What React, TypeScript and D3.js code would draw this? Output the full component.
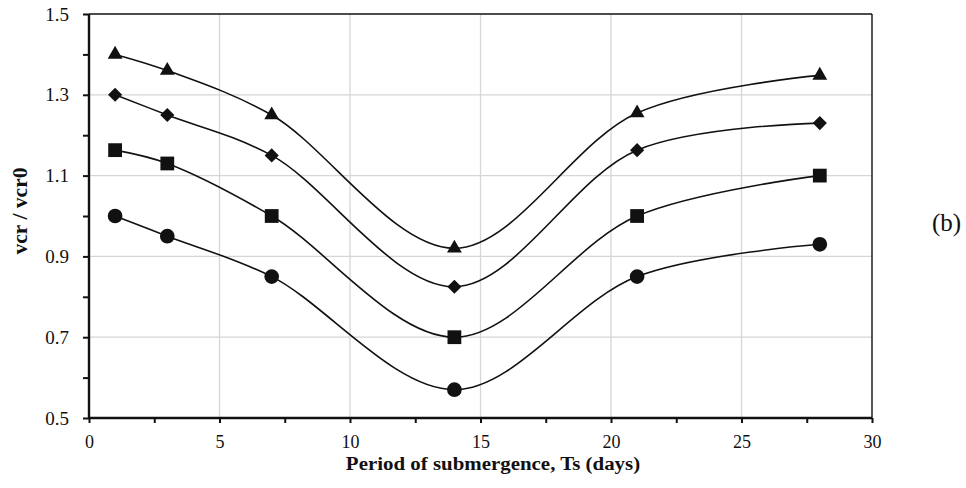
import React, { useEffect, useRef } from 'react';
import * as d3 from 'd3';

// period of submergence (days)
const days = [1, 3, 7, 14, 21, 28];

// vcr / vcr0 for each of the four curves
const seriesTriangle = [1.4, 1.36, 1.25, 0.92, 1.255, 1.348];
const seriesDiamond = [1.3, 1.25, 1.15, 0.825, 1.163, 1.23];
const seriesSquare = [1.163, 1.13, 1.0, 0.7, 1.0, 1.1];
const seriesCircle = [1.0, 0.95, 0.85, 0.57, 0.85, 0.93];

const xTicks = [0, 5, 10, 15, 20, 25, 30];
const yTicks = [0.5, 0.7, 0.9, 1.1, 1.3, 1.5];

const W = 966, H = 488;
const left = 89, right = 872, top = 14, bottom = 418;

const App = () => {
  const svgRef = useRef<SVGSVGElement>(null);

  useEffect(() => {
    const svg = d3.select(svgRef.current);
    svg.selectAll('*').remove();

    const x = d3.scaleLinear().domain([0, 30]).range([left, right]);
    const y = d3.scaleLinear().domain([0.5, 1.5]).range([bottom, top]);

    const font = "'Liberation Serif', 'Times New Roman', serif";

    // grid lines
    const grid = svg.append('g').attr('stroke', '#d6d6d6').attr('stroke-width', 1.3);
    xTicks.slice(1, -1).forEach(t => {
      grid.append('line').attr('x1', x(t)).attr('x2', x(t)).attr('y1', top).attr('y2', bottom);
    });
    yTicks.slice(1, -1).forEach(t => {
      grid.append('line').attr('x1', left).attr('x2', right).attr('y1', y(t)).attr('y2', y(t));
    });

    // frame (top/right thinner)
    svg.append('line').attr('x1', left).attr('x2', right).attr('y1', top).attr('y2', top)
      .attr('stroke', '#111').attr('stroke-width', 1.4);
    svg.append('line').attr('x1', right).attr('x2', right).attr('y1', top).attr('y2', bottom)
      .attr('stroke', '#111').attr('stroke-width', 1.4);

    // left axis
    const yAxis = d3.axisLeft(y)
      .tickValues(d3.range(0.5, 1.5001, 0.1))
      .tickSize(6)
      .tickFormat(d => {
        const v = +d;
        return yTicks.some(t => Math.abs(t - v) < 1e-6) ? d3.format('.1f')(v) : '';
      });
    const gy = svg.append('g').attr('transform', `translate(${left},0)`).call(yAxis);
    gy.select('.domain').attr('stroke', '#111').attr('stroke-width', 2.4).attr('d', `M0,${top}V${bottom}`);
    gy.selectAll('.tick line').attr('stroke', '#111').attr('stroke-width', 2);
    gy.selectAll('.tick text').attr('x', -20).style('font-family', font).style('font-size', '19px').attr('fill', '#111');

    // bottom axis
    const xAxis = d3.axisBottom(x)
      .tickValues(d3.range(0, 30.001, 2.5))
      .tickSize(5)
      .tickFormat(d => (+d % 5 === 0 ? String(d) : ''));
    const gx = svg.append('g').attr('transform', `translate(0,${bottom})`).call(xAxis);
    gx.select('.domain').attr('stroke', '#111').attr('stroke-width', 2.4).attr('d', `M${left},0H${right}`);
    gx.selectAll('.tick line').attr('stroke', '#111').attr('stroke-width', 2);
    gx.selectAll('.tick text').attr('y', 17).attr('dy', '0.7em').style('font-family', font).style('font-size', '18px').attr('fill', '#111');

    // curves and markers
    const series = [
      { values: seriesTriangle, symbol: d3.symbolTriangle, size: 95, rotate: 0 },
      { values: seriesDiamond, symbol: d3.symbolSquare, size: 100, rotate: 45 },
      { values: seriesSquare, symbol: d3.symbolSquare, size: 190, rotate: 0 },
      { values: seriesCircle, symbol: d3.symbolCircle, size: 170, rotate: 0 },
    ];

    const line = d3.line<number>()
      .x((_, i) => x(days[i]))
      .y(d => y(d))
      .curve(d3.curveCatmullRom.alpha(0.5));

    series.forEach(s => {
      svg.append('path').attr('d', line(s.values) as string)
        .attr('fill', 'none').attr('stroke', '#111').attr('stroke-width', 1.6);
      const sym = d3.symbol().type(s.symbol).size(s.size);
      svg.append('g').selectAll('path').data(s.values).join('path')
        .attr('d', sym() as string)
        .attr('transform', (d, i) => `translate(${x(days[i])},${y(d)}) rotate(${s.rotate})`)
        .attr('fill', '#111');
    });

    // titles
    svg.append('text').attr('transform', 'translate(493,470) scale(1.1,1)').attr('text-anchor', 'middle')
      .style('font-family', font).style('font-size', '19px').style('font-weight', 'bold').attr('fill', '#111')
      .text('Period of submergence, Ts (days)');
    svg.append('text').attr('transform', `translate(27,211) rotate(-90) scale(1.08,1)`).attr('text-anchor', 'middle')
      .style('font-family', font).style('font-size', '20px').style('font-weight', 'bold').attr('fill', '#111')
      .text('vcr / vcr0');
    svg.append('text').attr('x', 932).attr('y', 231)
      .style('font-family', font).style('font-size', '25px').attr('fill', '#111')
      .text('(b)');
  }, []);

  return (
    <svg ref={svgRef} width={W} height={H}
      style={{ position: 'absolute', left: 0, top: 0, background: '#fff' }} />
  );
};

export default App;
